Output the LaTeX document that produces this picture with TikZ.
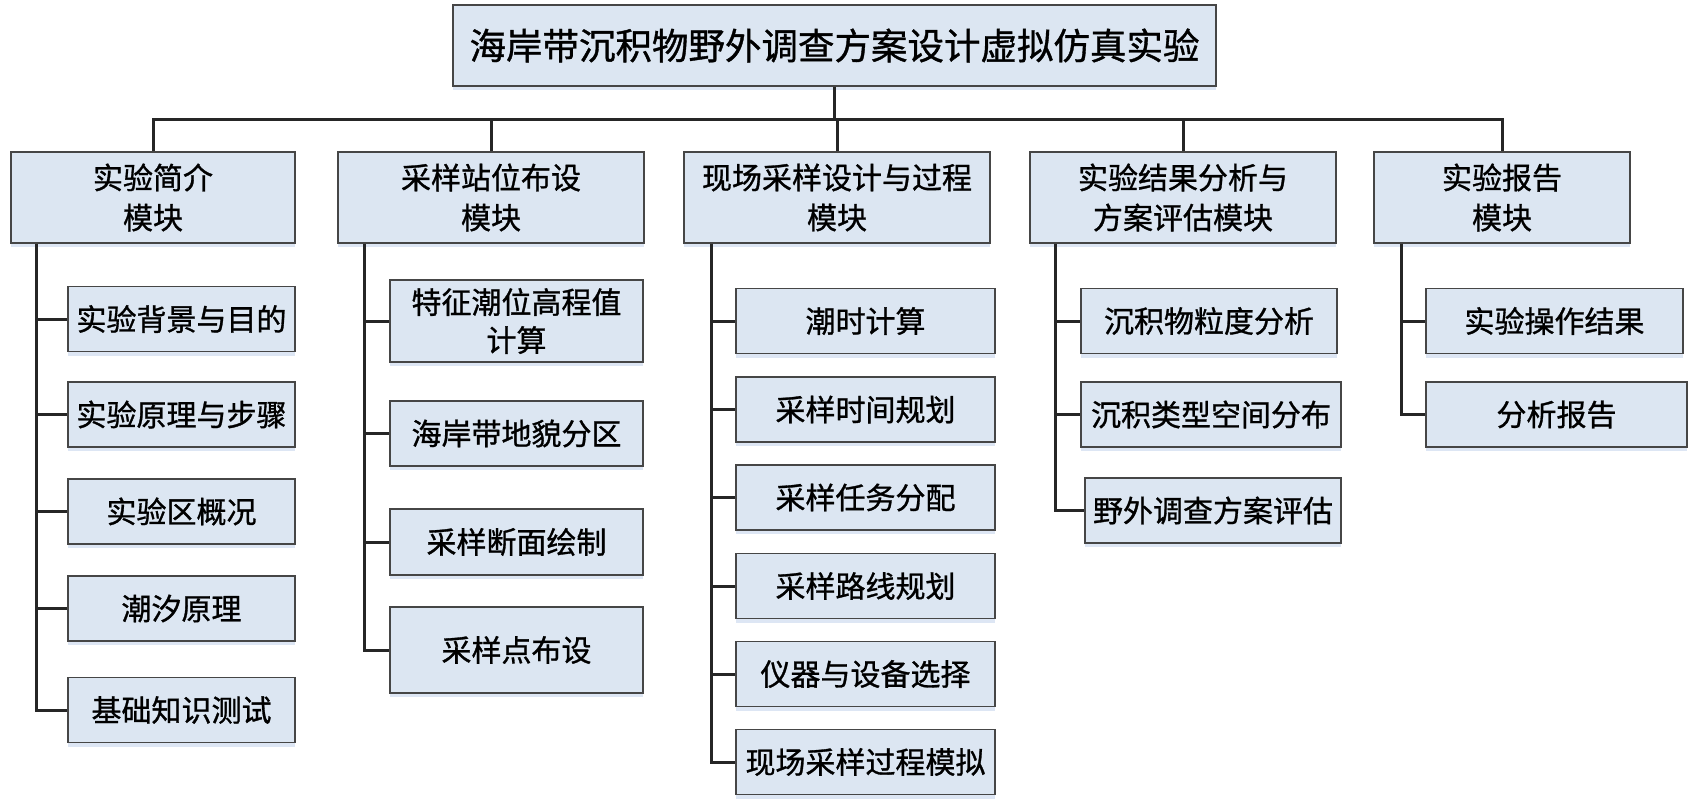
\documentclass[tikz,border=0pt]{standalone}
\usepackage{fontspec}
\setmainfont{Noto Sans CJK SC}[FakeBold=1]
\usetikzlibrary{shadows}
\definecolor{boxfill}{HTML}{DCE6F2}
\definecolor{boxline}{HTML}{464646}
\definecolor{linkc}{HTML}{262626}
\definecolor{shadowc}{HTML}{C6D6EC}
\tikzset{
  box/.style={draw=boxline, line width=1.2pt, fill=boxfill, inner sep=0pt, align=center,
    drop shadow={shadow xshift=0pt, shadow yshift=-4pt, fill=shadowc, opacity=0.6},
    font=\fontsize{30}{40}\selectfont},
  titlebox/.style={box, font=\fontsize{36.5}{44}\selectfont},
  link/.style={draw=linkc, line width=3pt}
}
\begin{document}
\begin{tikzpicture}[x=1pt,y=-1pt]
\useasboundingbox (0,0) rectangle (1699,811);
% top
\node[titlebox, minimum width=763pt, minimum height=81pt] (top) at (834.5,45.5) {海岸带沉积物野外调查方案设计虚拟仿真实验};
\coordinate (bus) at (0,119);
% modules
\node[box, minimum width=284pt, minimum height=91pt] (m1) at (153,197.5) {实验简介\\模块};
\node[box, minimum width=306pt, minimum height=91pt] (m2) at (491,197.5) {采样站位布设\\模块};
\node[box, minimum width=306pt, minimum height=91pt] (m3) at (837,197.5) {现场采样设计与过程\\模块};
\node[box, minimum width=306pt, minimum height=91pt] (m4) at (1183,197.5) {实验结果分析与\\方案评估模块};
\node[box, minimum width=256pt, minimum height=91pt] (m5) at (1502,197.5) {实验报告\\模块};
% trunk x positions
\coordinate (t1) at (36,0);
\coordinate (t2) at (364,0);
\coordinate (t3) at (711,0);
\coordinate (t4) at (1055,0);
\coordinate (t5) at (1401,0);
% column 1
\node[box, minimum width=227pt, minimum height=65pt] (c11) at (181.5,319) {实验背景与目的};
\node[box, minimum width=227pt, minimum height=65pt] (c12) at (181.5,414.5) {实验原理与步骤};
\node[box, minimum width=227pt, minimum height=65pt] (c13) at (181.5,511.5) {实验区概况};
\node[box, minimum width=227pt, minimum height=65pt] (c14) at (181.5,608.5) {潮汐原理};
\node[box, minimum width=227pt, minimum height=65pt] (c15) at (181.5,710) {基础知识测试};
% column 2
\node[box, minimum width=253pt, minimum height=82pt, font=\fontsize{30}{38}\selectfont] (c21) at (516.5,321) {特征潮位高程值\\计算};
\node[box, minimum width=253pt, minimum height=65pt] (c22) at (516.5,433.5) {海岸带地貌分区};
\node[box, minimum width=253pt, minimum height=66pt] (c23) at (516.5,542) {采样断面绘制};
\node[box, minimum width=253pt, minimum height=86pt] (c24) at (516.5,650) {采样点布设};
% column 3
\node[box, minimum width=259pt, minimum height=65pt] (c31) at (865.5,321) {潮时计算};
\node[box, minimum width=259pt, minimum height=65pt] (c32) at (865.5,409.5) {采样时间规划};
\node[box, minimum width=259pt, minimum height=65pt] (c33) at (865.5,497.5) {采样任务分配};
\node[box, minimum width=259pt, minimum height=65pt] (c34) at (865.5,586) {采样路线规划};
\node[box, minimum width=259pt, minimum height=65pt] (c35) at (865.5,674) {仪器与设备选择};
\node[box, minimum width=259pt, minimum height=65pt] (c36) at (865.5,762) {现场采样过程模拟};
% column 4
\node[box, minimum width=256pt, minimum height=65pt] (c41) at (1209,321) {沉积物粒度分析};
\node[box, minimum width=260pt, minimum height=65pt] (c42) at (1211,414.5) {沉积类型空间分布};
\node[box, minimum width=256pt, minimum height=65pt] (c43) at (1213,510.5) {野外调查方案评估};
% column 5
\node[box, minimum width=257pt, minimum height=65pt] (c51) at (1554.5,321) {实验操作结果};
\node[box, minimum width=261pt, minimum height=65pt] (c52) at (1556.5,414.5) {分析报告};
% top connectors
\draw[link] (top.south) -- (top.south |- bus);
\draw[link] (m1.north) -- (m1.north |- bus) -- (m5.north |- bus) -- (m5.north);
\draw[link] (m2.north) -- (m2.north |- bus);
\draw[link] (m3.north) -- (m3.north |- bus);
\draw[link] (m4.north) -- (m4.north |- bus);
% column 1 trunk
\draw[link] (t1 |- m1.south) -- (t1 |- c15.west) -- (c15.west);
\foreach \c in {c11,c12,c13,c14} \draw[link] (t1 |- \c.west) -- (\c.west);
% column 2 trunk
\draw[link] (t2 |- m2.south) -- (t2 |- c24.west) -- (c24.west);
\foreach \c in {c21,c22,c23} \draw[link] (t2 |- \c.west) -- (\c.west);
% column 3 trunk
\draw[link] (t3 |- m3.south) -- (t3 |- c36.west) -- (c36.west);
\foreach \c in {c31,c32,c33,c34,c35} \draw[link] (t3 |- \c.west) -- (\c.west);
% column 4 trunk
\draw[link] (t4 |- m4.south) -- (t4 |- c43.west) -- (c43.west);
\foreach \c in {c41,c42} \draw[link] (t4 |- \c.west) -- (\c.west);
% column 5 trunk
\draw[link] (t5 |- m5.south) -- (t5 |- c52.west) -- (c52.west);
\draw[link] (t5 |- c51.west) -- (c51.west);
\end{tikzpicture}
\end{document}
